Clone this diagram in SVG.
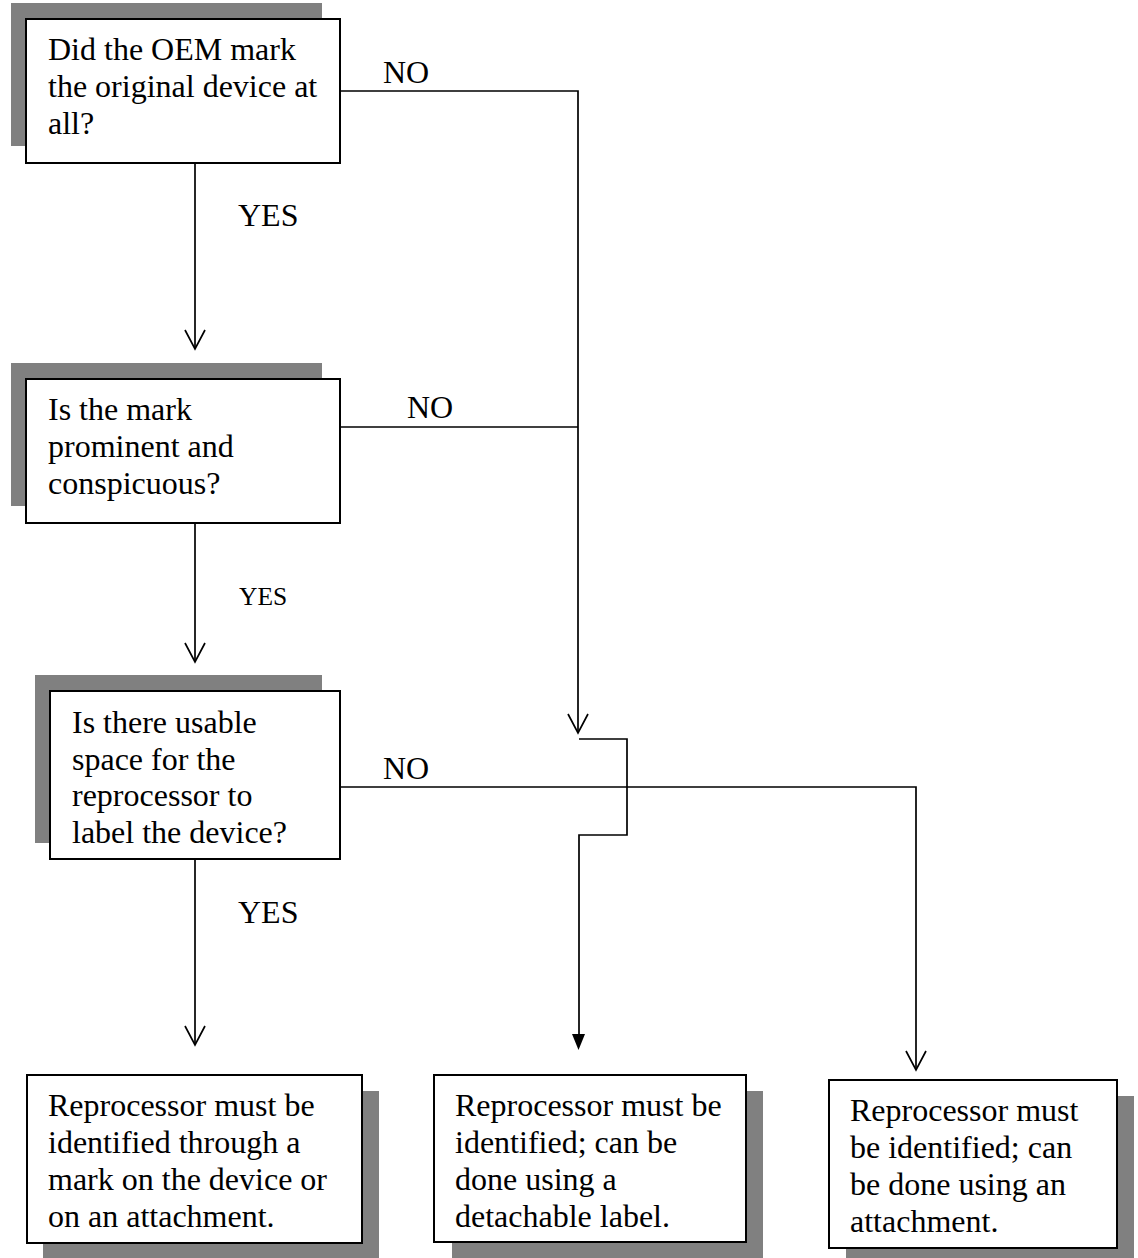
<svg xmlns="http://www.w3.org/2000/svg" width="1138" height="1258" viewBox="0 0 1138 1258">
<style>
.shadow{fill:#808080;stroke:none}
.box{fill:#fff;stroke:#000;stroke-width:2}
.t{font-family:"Liberation Serif","Times New Roman",serif;font-size:32px;fill:#000}
.s{font-size:25.5px}
.ln{fill:none;stroke:#000;stroke-width:1.7}
</style>
<defs>
<marker id="open" markerWidth="22" markerHeight="24" refX="20" refY="11" orient="auto" markerUnits="userSpaceOnUse" viewBox="0 0 22 22">
<path d="M1,1 L20,11 L1,21" fill="none" stroke="#000" stroke-width="1.7"/>
</marker>
</defs>
<rect width="1138" height="1258" fill="#fff"/>
<g id="q1">
<rect class="shadow" x="11" y="3" width="311" height="143"/>
<rect class="box" x="26" y="19" width="314" height="144"/>
<text class="t" x="48" y="60">Did the OEM mark</text>
<text class="t" x="48" y="97">the original device at</text>
<text class="t" x="48" y="134">all?</text>
</g>
<g id="q2">
<rect class="shadow" x="11" y="363" width="311" height="143"/>
<rect class="box" x="26" y="379" width="314" height="144"/>
<text class="t" x="48" y="420">Is the mark</text>
<text class="t" x="48" y="457">prominent and</text>
<text class="t" x="48" y="494">conspicuous?</text>
</g>
<g id="q3">
<rect class="shadow" x="35" y="675" width="287" height="168"/>
<rect class="box" x="50" y="691" width="290" height="168"/>
<text class="t" x="72" y="733">Is there usable</text>
<text class="t" x="72" y="770">space for the</text>
<text class="t" x="72" y="806">reprocessor to</text>
<text class="t" x="72" y="843">label the device?</text>
</g>
<g id="r1">
<rect class="shadow" x="43" y="1091" width="336" height="167"/>
<rect class="box" x="27" y="1075" width="335" height="168"/>
<text class="t" x="48" y="1116">Reprocessor must be</text>
<text class="t" x="48" y="1153">identified through a</text>
<text class="t" x="48" y="1190">mark on the device or</text>
<text class="t" x="48" y="1227">on an attachment.</text>
</g>
<g id="r2">
<rect class="shadow" x="452" y="1091" width="311" height="167"/>
<rect class="box" x="434" y="1075" width="312" height="167"/>
<text class="t" x="455" y="1116">Reprocessor must be</text>
<text class="t" x="455" y="1153">identified; can be</text>
<text class="t" x="455" y="1190">done using a</text>
<text class="t" x="455" y="1227">detachable label.</text>
</g>
<g id="r3">
<rect class="shadow" x="846" y="1096" width="288" height="162"/>
<rect class="box" x="829" y="1080" width="288" height="168"/>
<text class="t" x="850" y="1121">Reprocessor must</text>
<text class="t" x="850" y="1158">be identified; can</text>
<text class="t" x="850" y="1195">be done using an</text>
<text class="t" x="850" y="1232">attachment.</text>
</g>
<g id="connectors">
<path class="ln" d="M195,163 V349" marker-end="url(#open)"/>
<path class="ln" d="M195,523 V662" marker-end="url(#open)"/>
<path class="ln" d="M195,859 V1045" marker-end="url(#open)"/>
<path class="ln" d="M340,91 H578 V733" marker-end="url(#open)"/>
<path class="ln" d="M340,427 H578"/>
<path class="ln" d="M579,739 H627 V835 H579 V1036"/>
<path d="M572,1034 L585,1034 L578.5,1050 Z" fill="#000"/>
<path class="ln" d="M340,787 H916 V1070" marker-end="url(#open)"/>
<text class="t" x="383" y="83">NO</text>
<text class="t" x="407" y="418">NO</text>
<text class="t" x="383" y="779">NO</text>
<text class="t" x="238" y="226">YES</text>
<text class="t s" x="239" y="605">YES</text>
<text class="t" x="238" y="923">YES</text>
</g>
</svg>
